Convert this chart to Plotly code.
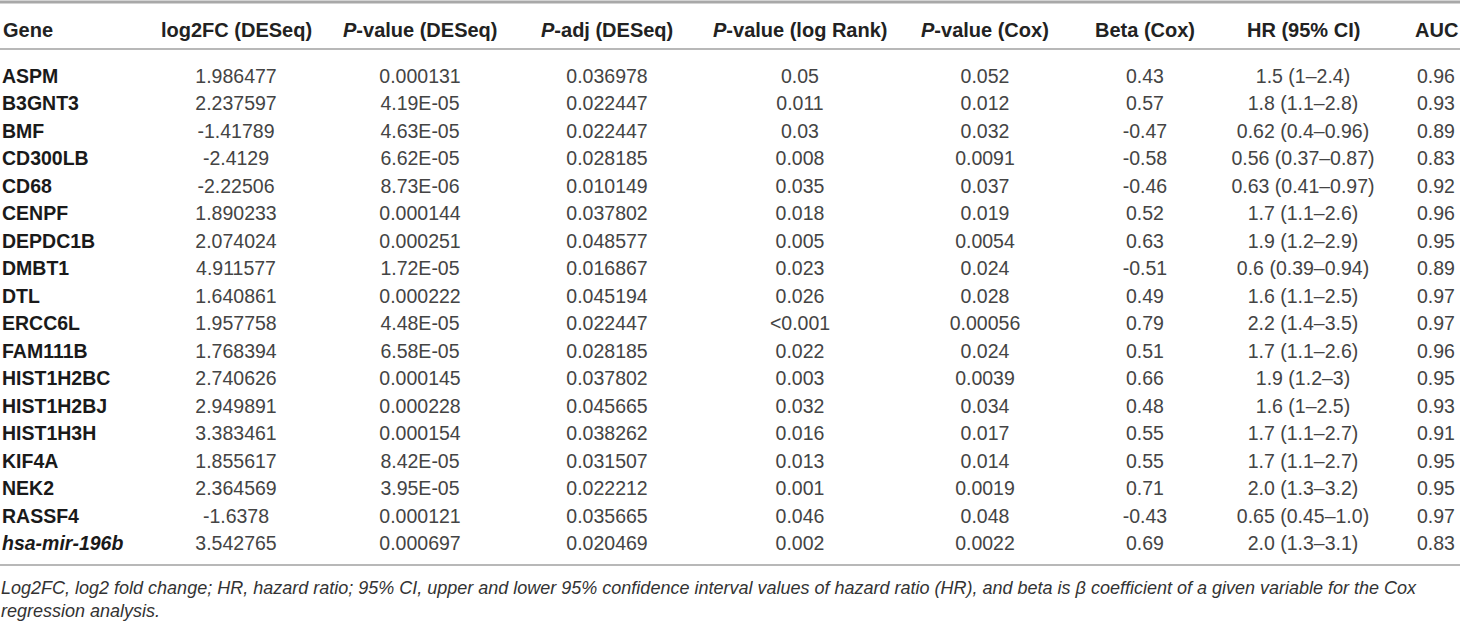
import plotly.graph_objects as go

genes = ["ASPM", "B3GNT3", "BMF", "CD300LB", "CD68", "CENPF", "DEPDC1B", "DMBT1", "DTL",
         "ERCC6L", "FAM111B", "HIST1H2BC", "HIST1H2BJ", "HIST1H3H", "KIF4A", "NEK2", "RASSF4",
         "<i>hsa-mir-196b</i>"]
log2fc = ["1.986477", "2.237597", "-1.41789", "-2.4129", "-2.22506", "1.890233", "2.074024",
          "4.911577", "1.640861", "1.957758", "1.768394", "2.740626", "2.949891", "3.383461",
          "1.855617", "2.364569", "-1.6378", "3.542765"]
pval_deseq = ["0.000131", "4.19E-05", "4.63E-05", "6.62E-05", "8.73E-06", "0.000144", "0.000251",
              "1.72E-05", "0.000222", "4.48E-05", "6.58E-05", "0.000145", "0.000228", "0.000154",
              "8.42E-05", "3.95E-05", "0.000121", "0.000697"]
padj_deseq = ["0.036978", "0.022447", "0.022447", "0.028185", "0.010149", "0.037802", "0.048577",
              "0.016867", "0.045194", "0.022447", "0.028185", "0.037802", "0.045665", "0.038262",
              "0.031507", "0.022212", "0.035665", "0.020469"]
pval_logrank = ["0.05", "0.011", "0.03", "0.008", "0.035", "0.018", "0.005", "0.023", "0.026",
                "<0.001", "0.022", "0.003", "0.032", "0.016", "0.013", "0.001", "0.046", "0.002"]
pval_cox = ["0.052", "0.012", "0.032", "0.0091", "0.037", "0.019", "0.0054", "0.024", "0.028",
            "0.00056", "0.024", "0.0039", "0.034", "0.017", "0.014", "0.0019", "0.048", "0.0022"]
beta_cox = ["0.43", "0.57", "-0.47", "-0.58", "-0.46", "0.52", "0.63", "-0.51", "0.49", "0.79",
            "0.51", "0.66", "0.48", "0.55", "0.55", "0.71", "-0.43", "0.69"]
hr_ci = ["1.5 (1–2.4)", "1.8 (1.1–2.8)", "0.62 (0.4–0.96)", "0.56 (0.37–0.87)", "0.63 (0.41–0.97)",
         "1.7 (1.1–2.6)", "1.9 (1.2–2.9)", "0.6 (0.39–0.94)", "1.6 (1.1–2.5)", "2.2 (1.4–3.5)",
         "1.7 (1.1–2.6)", "1.9 (1.2–3)", "1.6 (1–2.5)", "1.7 (1.1–2.7)", "1.7 (1.1–2.7)",
         "2.0 (1.3–3.2)", "0.65 (0.45–1.0)", "2.0 (1.3–3.1)"]
auc = ["0.96", "0.93", "0.89", "0.83", "0.92", "0.96", "0.95", "0.89", "0.97", "0.97", "0.96",
       "0.95", "0.93", "0.91", "0.95", "0.95", "0.97", "0.83"]

headers = ["Gene", "log2FC (DESeq)", "<i>P</i>-value (DESeq)", "<i>P</i>-adj (DESeq)",
           "<i>P</i>-value (log Rank)", "<i>P</i>-value (Cox)", "Beta (Cox)", "HR (95% CI)", "AUC"]

footnote = ("<i>Log2FC, log2 fold change; HR, hazard ratio; 95% CI, upper and lower 95% confidence "
            "interval values of hazard ratio (HR), and beta is β coefficient of a given variable for the Cox"
            "<br>regression analysis.</i>")

# layout: pixel geometry of the page
W, H = 1460, 622
col_x = [2, 236, 420, 607, 800, 985, 1145, 1303, 1436]   # gene column left edge, then centres
first_row_px, row_px = 78, 27.5
FONT = "Liberation Sans, Arial, Helvetica, sans-serif"


def py(px):
    # pixel from top -> paper fraction
    return 1 - px / H


fig = go.Figure()

columns = [[f"<b>{g}</b>" for g in genes], log2fc, pval_deseq, padj_deseq, pval_logrank,
           pval_cox, beta_cox, hr_ci, auc]
rows = list(range(len(genes)))

for i, col in enumerate(columns):
    fig.add_trace(go.Scatter(
        x=[col_x[i]] * len(col),
        y=rows,
        mode="text",
        text=col,
        textposition="middle right" if i == 0 else "middle center",
        textfont=dict(family=FONT, size=19.5, color="#1a1a1a" if i == 0 else "#444444"),
        hoverinfo="skip",
        showlegend=False,
    ))

for i, h in enumerate(headers):
    fig.add_annotation(text=f"<b>{h}</b>", xref="x", yref="paper", x=col_x[i], y=py(30),
                       xanchor="left" if i == 0 else "center", yanchor="middle",
                       showarrow=False, borderpad=0,
                       font=dict(family=FONT, size=20, color="#222222"))

for y, w, c in [(2, 3, "#a8a8a8"), (49, 2, "#b8b8b8"), (565, 1.5, "#a0a0a0")]:
    fig.add_shape(type="line", xref="paper", yref="paper", x0=0, x1=1, y0=py(y), y1=py(y),
                  line=dict(color=c, width=w))

fig.add_annotation(text=footnote, xref="paper", yref="paper", x=0, y=py(577),
                   xanchor="left", yanchor="top", align="left", showarrow=False, borderpad=0,
                   font=dict(family=FONT, size=18, color="#333333"))

fig.update_layout(
    width=W, height=H,
    margin=dict(l=0, r=0, t=0, b=0),
    paper_bgcolor="white",
    plot_bgcolor="white",
    xaxis=dict(range=[0, W], visible=False, fixedrange=True),
    yaxis=dict(range=[(H - first_row_px) / row_px, -first_row_px / row_px],
               visible=False, fixedrange=True),
)
# page body has a default 8px margin; drop it so the figure sits at the window's corner
fig.write_html("out.html", config={"displayModeBar": False},
               post_script="document.body.style.margin='0';")
